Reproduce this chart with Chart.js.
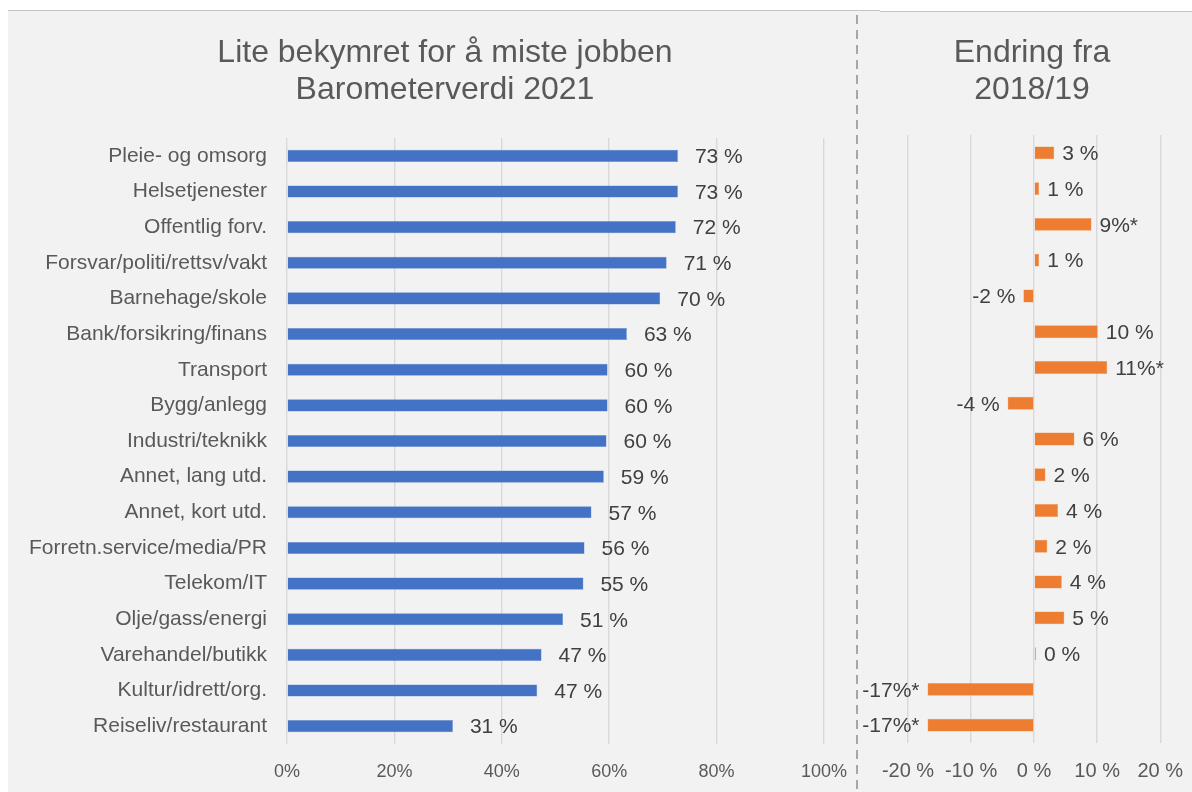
<!DOCTYPE html>
<html>
<head>
<meta charset="utf-8">
<script src="https://cdn.jsdelivr.net/npm/chart.js@4"></script>
<style>
  body { margin: 0; background: #ffffff; width: 1192px; height: 792px; overflow: hidden; position: relative;
         font-family: 'Liberation Sans', Arial, sans-serif; }
  .panel { position: absolute; background: #f2f2f2; }
  #leftPanel { left: 8px; top: 10px; width: 872px; height: 782px; border-top: 1px solid #c4c4c4; box-sizing: border-box; }
  #rightPanel { left: 880px; top: 11px; width: 312px; height: 781px; border-top: 1px solid #c4c4c4; box-sizing: border-box; }
  canvas { position: absolute; }
  #levelChart { left: 8px; top: 11px; }
  #changeChart { left: 858px; top: 11px; }
  .title { position: absolute; top: 33px; color: #595959; font-size: 32px; line-height: 37px; text-align: center; white-space: nowrap; }
  #levelTitle { left: 145px; width: 600px; }
  #changeTitle { left: 932px; width: 200px; }
</style>
</head>
<body>
<div class="panel" id="leftPanel"></div>
<div class="panel" id="rightPanel"></div>
<canvas id="levelChart" width="856" height="781"></canvas>
<canvas id="changeChart" width="341" height="781"></canvas>
<div class="title" id="levelTitle">Lite bekymret for å miste jobben<br>Barometerverdi 2021</div>
<div class="title" id="changeTitle">Endring fra<br>2018/19</div>
<script>
// Bransjer (same order in both panels)
const categories = ['Pleie- og omsorg', 'Helsetjenester', 'Offentlig forv.', 'Forsvar/politi/rettsv/vakt',
    'Barnehage/skole', 'Bank/forsikring/finans', 'Transport', 'Bygg/anlegg', 'Industri/teknikk',
    'Annet, lang utd.', 'Annet, kort utd.', 'Forretn.service/media/PR', 'Telekom/IT', 'Olje/gass/energi',
    'Varehandel/butikk', 'Kultur/idrett/org.', 'Reiseliv/restaurant'];

// Barometerverdi 2021 (%)
const level2021 = [72.8, 72.8, 72.4, 70.7, 69.5, 63.3, 59.7, 59.7, 59.5, 59.0, 56.7, 55.4, 55.2, 51.4, 47.4, 46.6, 30.9];
const levelLabels = ['73 %', '73 %', '72 %', '71 %', '70 %', '63 %', '60 %', '60 %', '60 %', '59 %', '57 %',
    '56 %', '55 %', '51 %', '47 %', '47 %', '31 %'];

// Endring fra 2018/19 (prosentpoeng)
const change = [3.2, 0.8, 9.1, 0.8, -1.7, 10.1, 11.6, -4.2, 6.4, 1.8, 3.8, 2.1, 4.4, 4.8, 0.3, -16.9, -16.9];
const changeLabels = ['3 %', '1 %', '9%*', '1 %', '-2 %', '10 %', '11%*', '-4 %', '6 %', '2 %', '4 %',
    '2 %', '4 %', '5 %', '0 %', '-17%*', '-17%*'];

// Tick labels
const levelTicks = ['0%', '20%', '40%', '60%', '80%', '100%'];
const changeTicks = ['-20 %', '-10 %', '0 %', '10 %', '20 %'];

const FONT = "'Liberation Sans', Arial, sans-serif";
const gridColor = '#d9d9d9';

// draws the value text next to each bar
function barLabels(texts, gap, size) {
    return {
        id: 'barLabels',
        afterDatasetsDraw(chart) {
            const ctx = chart.ctx;
            const meta = chart.getDatasetMeta(0);
            ctx.save();
            ctx.font = size + 'px ' + FONT;
            ctx.fillStyle = '#404040';
            ctx.textBaseline = 'middle';
            meta.data.forEach((bar, i) => {
                const neg = chart.data.datasets[0].data[i] < 0;
                ctx.textAlign = neg ? 'right' : 'left';
                ctx.fillText(texts[i], neg ? bar.x - gap : bar.x + gap, bar.y + 1.5);
            });
            ctx.restore();
        }
    };
}

// dashed divider between the two panels (page x = 857)
const divider = {
    id: 'divider',
    afterDraw(chart) {
        const ctx = chart.ctx;
        ctx.save();
        ctx.strokeStyle = '#a6a6a6';
        ctx.lineWidth = 2;
        ctx.setLineDash([9, 6]);
        ctx.beginPath();
        ctx.moveTo(849, 4);
        ctx.lineTo(849, chart.height);
        ctx.stroke();
        ctx.restore();
    }
};

new Chart(document.getElementById('levelChart'), {
    type: 'bar',
    data: {
        labels: categories,
        datasets: [{
            data: level2021,
            backgroundColor: '#4472c4',
            borderColor: '#6a8fd4',
            borderWidth: 0.5,
            categoryPercentage: 1,
            barPercentage: 0.34
        }]
    },
    options: {
        indexAxis: 'y',
        responsive: false,
        animation: false,
        layout: { padding: { left: 0, right: 0, top: 127, bottom: 0 } },
        plugins: {
            legend: { display: false },
            tooltip: { enabled: false },
            title: { display: false }
        },
        scales: {
            x: {
                min: 0, max: 100,
                ticks: {
                    stepSize: 20,
                    color: '#595959',
                    padding: 17,
                    font: { family: FONT, size: 18 },
                    callback: (v, i) => levelTicks[i]
                },
                grid: { color: gridColor, lineWidth: 1.4, drawTicks: false },
                border: { display: false },
                afterFit: s => { s.height = 48; }
            },
            y: {
                ticks: {
                    color: '#595959',
                    padding: 20,
                    autoSkip: false,
                    font: { family: FONT, size: 21 }
                },
                grid: { display: false, drawTicks: false },
                border: { display: false },
                afterFit: s => { s.width = 279; }
            }
        }
    },
    plugins: [barLabels(levelLabels, 17, 21), divider]
});

new Chart(document.getElementById('changeChart'), {
    type: 'bar',
    data: {
        labels: categories,
        datasets: [{
            data: change,
            backgroundColor: '#ed7d31',
            borderColor: '#f09a5e',
            borderWidth: 0.5,
            categoryPercentage: 1,
            barPercentage: 0.36
        }]
    },
    options: {
        indexAxis: 'y',
        responsive: false,
        animation: false,
        layout: { padding: { left: 50, right: 0, top: 124, bottom: 0 } },
        plugins: {
            legend: { display: false },
            tooltip: { enabled: false },
            title: { display: false }
        },
        scales: {
            x: {
                min: -20, max: 20,
                ticks: {
                    stepSize: 10,
                    color: '#595959',
                    padding: 16,
                    font: { family: FONT, size: 20 },
                    callback: (v, i) => changeTicks[i]
                },
                grid: { color: gridColor, lineWidth: 1.4, drawTicks: false },
                border: { display: false },
                afterFit: s => { s.height = 49; }
            },
            y: {
                display: false
            }
        }
    },
    plugins: [barLabels(changeLabels, 8, 21)]
});
</script>
</body>
</html>
